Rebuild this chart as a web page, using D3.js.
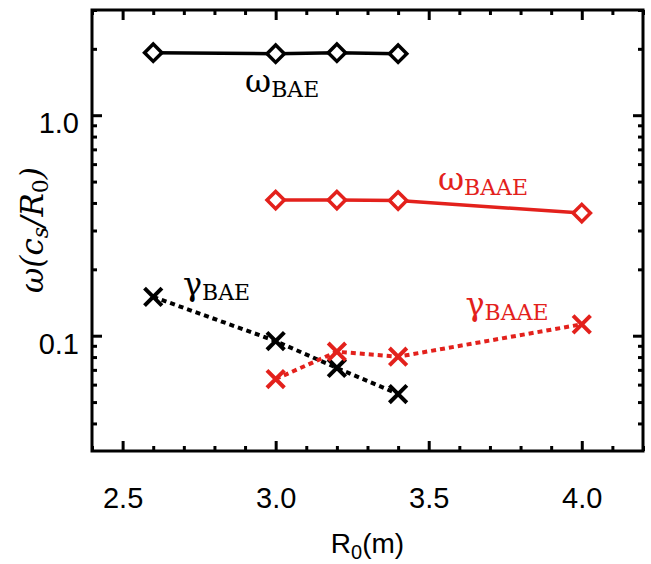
<!DOCTYPE html>
<html>
<head>
<meta charset="utf-8">
<script src="https://cdn.jsdelivr.net/npm/d3@7"></script>
<style>
  body { margin: 0; background: #fff; }
  .tick text { font-family: "Liberation Sans", Arial, sans-serif; font-size: 29px; fill: #000; }
</style>
</head>
<body>
<div id="chart-container"></div>
<script>
// R0 (m) values
var r0BAE = [2.6, 3.0, 3.2, 3.4]
var r0BAAE = [3.0, 3.2, 3.4, 4.0]
// frequencies and growth rates, in cs/R0
var omegaBAE = [1.92, 1.90, 1.92, 1.90]
var omegaBAAE = [0.412, 0.412, 0.41, 0.36]
var gammaBAE = [0.150, 0.0946, 0.0714, 0.0544]
var gammaBAAE = [0.0636, 0.0846, 0.0803, 0.1126]

var xMajor = [2.5, 3.0, 3.5, 4.0]
var xMinor = [2.4, 2.6, 2.7, 2.8, 2.9, 3.1, 3.2, 3.3, 3.4, 3.6, 3.7, 3.8, 3.9, 4.1, 4.2]
var yMajor = [0.1, 1.0]
var yMinor = [0.04, 0.05, 0.06, 0.07, 0.08, 0.09, 0.2, 0.3, 0.4, 0.5, 0.6, 0.7, 0.8, 0.9, 2, 3]

var width = 651, height = 564
var mLeft = 92, mRight = 643, mTop = 10, mBottom = 451
var red = '#e3211c'

var svg = d3.select("#chart-container").append("svg").attr('width', width).attr('height', height)
svg.append('rect').attr('width', width).attr('height', height).attr('fill', '#fff')

var x = d3.scaleLinear().domain([2.4, 4.2]).range([mLeft, mRight])
var y = d3.scaleLog().domain([0.03, 3]).range([mBottom, mTop])

// axes: major and minor ticks all pointing inward
function drawAxis(axis, tr, cls) {
  var g = svg.append('g').attr('class', cls).attr('transform', tr).call(axis)
  g.select('.domain').remove()
  g.selectAll('.tick line').attr('stroke', '#000').attr('stroke-width', 3)
  return g
}
drawAxis(d3.axisBottom(x).tickValues(xMajor).tickSize(-10).tickPadding(36).tickFormat(d3.format('.1f')), 'translate(0,' + mBottom + ')', 'xaxis')
drawAxis(d3.axisBottom(x).tickValues(xMinor).tickSize(-5).tickFormat(''), 'translate(0,' + mBottom + ')', 'xminor')
drawAxis(d3.axisTop(x).tickValues(xMajor).tickSize(-10).tickFormat(''), 'translate(0,' + mTop + ')', 'xtop')
drawAxis(d3.axisTop(x).tickValues(xMinor).tickSize(-5).tickFormat(''), 'translate(0,' + mTop + ')', 'xtopminor')

var yl = drawAxis(d3.axisLeft(y).tickValues(yMajor).tickSize(-10).tickPadding(13).tickFormat(d3.format('.1f')), 'translate(' + mLeft + ',0)', 'yaxis')
yl.selectAll('.tick text').attr('dy', '0.6em')
drawAxis(d3.axisLeft(y).tickValues(yMinor).tickSize(-5).tickFormat(''), 'translate(' + mLeft + ',0)', 'yminor')
drawAxis(d3.axisRight(y).tickValues(yMajor).tickSize(-10).tickFormat(''), 'translate(' + mRight + ',0)', 'yright')
drawAxis(d3.axisRight(y).tickValues(yMinor).tickSize(-5).tickFormat(''), 'translate(' + mRight + ',0)', 'yrightminor')

svg.append('rect').attr('x', mLeft).attr('y', mTop).attr('width', mRight - mLeft).attr('height', mBottom - mTop)
  .attr('fill', 'none').attr('stroke', '#000').attr('stroke-width', 3)

// series
var series = [
  {xs: r0BAE, ys: omegaBAE, color: '#000', dash: null, mark: 'diamond'},
  {xs: r0BAAE, ys: omegaBAAE, color: red, dash: null, mark: 'diamond'},
  {xs: r0BAE, ys: gammaBAE, color: '#000', dash: '5,4', mark: 'x'},
  {xs: r0BAAE, ys: gammaBAAE, color: red, dash: '5,4', mark: 'x'}
]

var line = d3.line().x(function(d) { return x(d[0]) }).y(function(d) { return y(d[1]) })

series.forEach(function(s) {
  var pts = s.xs.map(function(v, i) { return [v, s.ys[i]] })
  svg.append('path').datum(pts)
    .attr('fill', 'none').attr('stroke', s.color)
    .attr('stroke-width', s.dash ? 4 : 3.5)
    .attr('stroke-dasharray', s.dash)
    .attr('d', line)
  svg.append('g').selectAll('path').data(pts).enter().append('path')
    .attr('transform', function(d) { return 'translate(' + x(d[0]) + ',' + y(d[1]) + ')' + (s.mark == 'diamond' ? ' rotate(45)' : '') })
    .attr('d', s.mark == 'diamond' ? d3.symbol(d3.symbolSquare, 150)() : d3.symbol(d3.symbolTimes, 200)())
    .attr('fill', s.mark == 'diamond' ? '#fff' : 'none')
    .attr('stroke', s.color)
    .attr('stroke-width', s.mark == 'diamond' ? 3.5 : 4)
})

// curve labels
var labels = [
  {sym: 'ω', sub: 'BAE', x: 2.90, y: 1.274, color: '#000'},
  {sym: 'ω', sub: 'BAAE', x: 3.53, y: 0.458, color: red},
  {sym: 'γ', sub: 'BAE', x: 2.697, y: 0.153, color: '#000'},
  {sym: 'γ', sub: 'BAAE', x: 3.62, y: 0.124, color: red}
]
labels.forEach(function(l) {
  var t = svg.append('text').attr('x', x(l.x)).attr('y', y(l.y))
    .attr('font-family', '"DejaVu Serif", serif').attr('fill', l.color)
  t.append('tspan').attr('font-size', 32).text(l.sym)
  t.append('tspan').attr('font-size', 22).attr('dy', 5).text(l.sub)
})

// axis titles
var xt = svg.append('text').attr('x', (mLeft + mRight) / 2).attr('y', 553).attr('text-anchor', 'middle')
  .attr('font-family', '"Liberation Sans", Arial, sans-serif').attr('font-size', 28)
xt.append('tspan').text('R')
xt.append('tspan').attr('font-size', 20).attr('dy', 6).text('0')
xt.append('tspan').attr('dy', -6).text('(m)')

var yt = svg.append('text').attr('transform', 'translate(43,230) rotate(-90)').attr('text-anchor', 'middle')
  .attr('font-family', '"DejaVu Serif", serif').attr('font-style', 'italic').attr('font-size', 31)
yt.append('tspan').text('ω(c')
yt.append('tspan').attr('font-size', 22).attr('dy', 5).text('s')
yt.append('tspan').attr('dy', -5).text('/R')
yt.append('tspan').attr('font-size', 22).attr('dy', 5).attr('font-style', 'normal').text('0')
yt.append('tspan').attr('dy', -5).text(')')
</script>
</body>
</html>
